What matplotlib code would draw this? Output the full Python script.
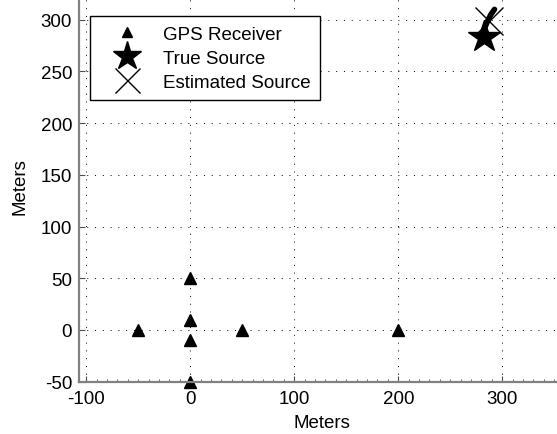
import numpy as np
import matplotlib.pyplot as plt
from matplotlib.ticker import MultipleLocator

plt.rcParams['font.family'] = ['Liberation Sans', 'DejaVu Sans']
plt.rcParams['axes.unicode_minus'] = False

## receivers, true source, estimated source track (meters)
rx_x = [-50, 0, 0, 0, 0, 50, 200]
rx_y = [0, 50, 10, -10, -50, 0, 0]
true_x = [282.8]
true_y = [282.8]
est_track_x = [281.5, 283.5, 286, 289, 292.5]
est_track_y = [287, 293, 299, 305, 310]
est_x = [287]
est_y = [299]

xticks = [-100, 0, 100, 200, 300]
yticks = [-50, 0, 50, 100, 150, 200, 250, 300]

fig = plt.figure(figsize=(5.57, 4.35), dpi=100)
# axes runs off the top and right edge of the picture (cropped figure)
ax = fig.add_axes([79 / 557, 52.3 / 435, 485.7 / 557, 392 / 435])

ax.plot(rx_x, rx_y, '^', color='k', markersize=8, label='GPS Receiver', clip_on=False)
ax.plot(true_x, true_y, '*', color='k', markersize=24, label='True Source', clip_on=False)
ax.plot(est_track_x, est_track_y, '-', color='k', lw=4, solid_capstyle='round', clip_on=False)
ax.plot(est_x, est_y, 'x', color='k', markersize=20, markeredgewidth=1.0,
        label='Estimated Source', clip_on=False)

ax.set_xlim(-107, 360)
ax.set_ylim(-50, 329)
ax.set_xticks(xticks)
ax.set_yticks(yticks)
ax.xaxis.set_minor_locator(MultipleLocator(10))
ax.tick_params(which='both', direction='in', labelsize=13.5, color='0.3')
ax.tick_params(which='major', length=4)
ax.tick_params(axis='x', which='minor', length=2.5)
ax.tick_params(axis='x', pad=6)
ax.tick_params(axis='y', pad=5)
ax.grid(True, which='major', color='k', linestyle=(0, (1, 7)), linewidth=0.7)

for s in ['top', 'right']:
    ax.spines[s].set_visible(False)
for s in ['left', 'bottom']:
    ax.spines[s].set_color('0.5')
    ax.spines[s].set_linewidth(1.6)

ax.set_xlabel('Meters', fontsize=13.5, labelpad=5)
ax.set_ylabel('Meters', fontsize=13.5, labelpad=9)

leg = ax.legend(loc='upper left', bbox_to_anchor=(90 / 557, 1 - 17 / 435),
                bbox_transform=fig.transFigure, fontsize=13.5, frameon=True,
                fancybox=False, edgecolor='k', framealpha=1, borderpad=0.5,
                labelspacing=0.38, handlelength=2.9, handletextpad=0.5,
                borderaxespad=0, markerscale=0.9)
leg.get_frame().set_linewidth(1.0)

fig.savefig('out.png', dpi=100)
